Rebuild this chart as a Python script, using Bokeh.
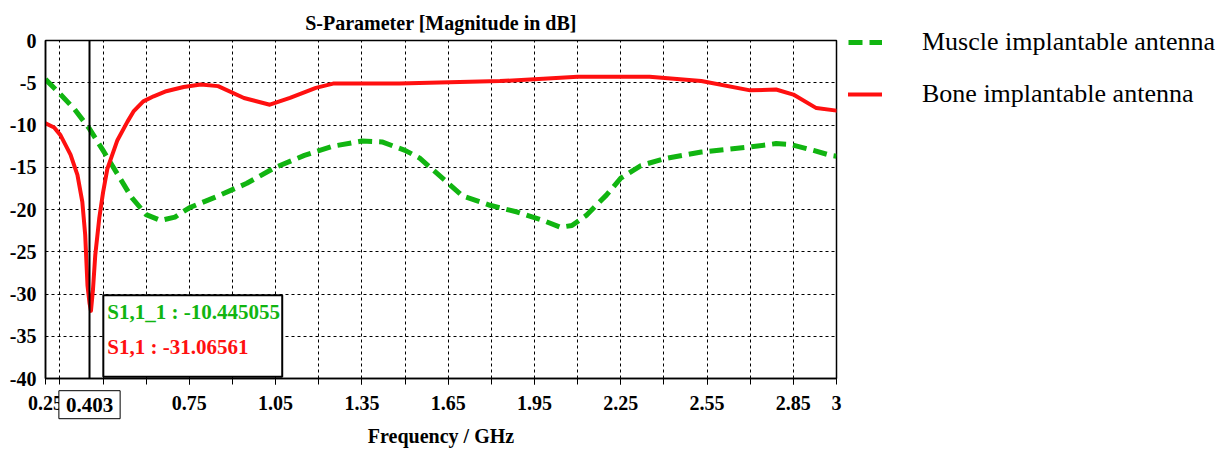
from bokeh.plotting import figure
from bokeh.models import (FixedTicker, Legend, LegendItem, Label, BoxAnnotation, Span)
from bokeh.embed import file_html
from bokeh.resources import INLINE

# ---- data ----
muscle_freq = [0.25, 0.30, 0.35, 0.403, 0.45, 0.50, 0.55, 0.60, 0.65, 0.70, 0.75, 0.85,
               0.95, 1.05, 1.15, 1.25, 1.35, 1.42, 1.50, 1.55, 1.63, 1.70, 1.795, 1.89,
               1.98, 2.04, 2.08, 2.13, 2.20, 2.25, 2.32, 2.40, 2.53, 2.70, 2.79, 2.84,
               2.92, 2.98, 3.00]
muscle_db = [-4.6, -6.3, -8.1, -10.45, -13.0, -15.8, -18.6, -20.6, -21.3, -20.9, -19.8, -18.4,
             -16.9, -15.0, -13.6, -12.5, -11.9, -12.0, -13.0, -13.9, -16.3, -18.4, -19.5, -20.3,
             -21.3, -22.1, -21.9, -20.7, -18.3, -16.3, -14.8, -14.0, -13.2, -12.6, -12.2, -12.3,
             -13.0, -13.6, -13.7]

bone_freq = [0.25, 0.28, 0.302, 0.337, 0.361, 0.378, 0.388, 0.396, 0.403, 0.408, 0.415, 0.423,
             0.437, 0.45, 0.465, 0.50, 0.535, 0.556, 0.59, 0.626, 0.67, 0.73, 0.79, 0.85,
             0.94, 1.03, 1.10, 1.19, 1.25, 1.48, 1.69, 1.83, 1.95, 2.10, 2.35, 2.53,
             2.70, 2.79, 2.85, 2.93, 3.00]
bone_db = [-9.8, -10.3, -11.2, -13.5, -15.9, -19.1, -23.0, -29.0, -31.07, -32.0, -29.5, -25.4,
           -21.0, -18.0, -15.2, -11.8, -9.6, -8.4, -7.2, -6.6, -6.0, -5.5, -5.2, -5.4,
           -6.8, -7.6, -6.8, -5.6, -5.1, -5.1, -4.9, -4.8, -4.6, -4.3, -4.3, -4.8,
           -5.9, -5.8, -6.4, -8.0, -8.3]

x_tick_labels = [0.25, 0.75, 1.05, 1.35, 1.65, 1.95, 2.25, 2.55, 2.85, 3.0]
x_grid = [0.30, 0.45, 0.60, 0.75, 0.90, 1.05, 1.20, 1.35, 1.50, 1.65, 1.80, 1.95,
          2.10, 2.25, 2.40, 2.55, 2.70, 2.85]
y_ticks = [0, -5, -10, -15, -20, -25, -30, -35, -40]
marker_freq = 0.403
marker_muscle = -10.445055
marker_bone = -31.06561

SERIF = "Liberation Serif"
GREEN = "#11b511"
RED = "#ff1010"

p = figure(frame_width=791, frame_height=338, x_range=(0.25, 3.0), y_range=(-40, 0),
           output_backend="svg", toolbar_location=None,
           min_border_left=45, min_border_right=390, min_border_top=40, min_border_bottom=60,
           title="S-Parameter [Magnitude in dB]")
p.background_fill_color = "white"
p.border_fill_color = "white"
p.outline_line_color = "black"
p.outline_line_width = 1.5

p.title.align = "center"
p.title.text_font = SERIF
p.title.text_font_style = "bold"
p.title.text_font_size = "20px"
p.title.text_color = "black"
p.title.standoff = 13

# axes
p.xaxis.ticker = FixedTicker(ticks=x_tick_labels, minor_ticks=x_grid)
p.xaxis.major_label_overrides = {0.25: "0.25", 3.0: "3"}
p.xaxis.axis_label = "Frequency / GHz"
for ax in (p.xaxis[0], p.yaxis[0]):
    ax.major_label_text_font = SERIF
    ax.major_label_text_font_style = "bold"
    ax.major_label_text_font_size = "20px"
    ax.major_label_text_color = "black"
    ax.axis_line_color = "black"
    ax.axis_line_width = 1.5
    ax.axis_label_text_font = SERIF
    ax.axis_label_text_font_style = "bold"
    ax.axis_label_text_font_size = "20px"
    ax.axis_label_text_color = "black"
p.xaxis.major_tick_out = 6
p.xaxis.major_tick_in = 0
p.xaxis.minor_tick_out = 6
p.xaxis.minor_tick_in = 0
p.xaxis.major_tick_line_color = "black"
p.xaxis.minor_tick_line_color = "black"
p.xaxis.major_label_standoff = 11
p.xaxis.axis_label_standoff = 12

p.yaxis.ticker = FixedTicker(ticks=y_ticks)
p.yaxis.major_label_overrides = {v: str(v) for v in y_ticks}
p.yaxis.major_tick_out = 0
p.yaxis.major_tick_in = 0
p.yaxis.minor_tick_line_color = None
p.yaxis.major_label_standoff = 9

# grid
p.xgrid.ticker = FixedTicker(ticks=x_grid)
p.ygrid.ticker = FixedTicker(ticks=y_ticks[1:-1])
for g in (p.xgrid[0], p.ygrid[0]):
    g.grid_line_color = "black"
    g.grid_line_width = 1
    g.grid_line_dash = "3 3"

# curves
r_muscle = p.line(muscle_freq, muscle_db, line_color=GREEN, line_width=5,
                  line_dash="14 7", line_join="round")
r_bone = p.line(bone_freq, bone_db, line_color=RED, line_width=4,
                line_join="round", line_cap="round")

# marker
p.add_layout(Span(location=marker_freq, dimension="height", line_color="black", line_width=2))

box = BoxAnnotation(left=0.451, right=1.073, top=-30.15, bottom=-39.8,
                    fill_color="white", fill_alpha=1.0, line_color="black",
                    line_alpha=1.0, line_width=2)
p.add_layout(box)
p.add_layout(Label(x=0.465, y=-32.1, text=f"S1,1_1 : {marker_muscle:.6f}",
                   text_font=SERIF, text_font_style="bold", text_font_size="21px",
                   text_color=GREEN, text_baseline="middle"))
p.add_layout(Label(x=0.465, y=-36.25, text=f"S1,1 : {marker_bone:.5f}",
                   text_font=SERIF, text_font_style="bold", text_font_size="21px",
                   text_color=RED, text_baseline="middle"))

# marker frequency label below the axis (boxed)
p.add_layout(Label(x=marker_freq, y=-43.1, text=f"{marker_freq:.3f}",
                   text_font=SERIF, text_font_style="bold", text_font_size="21px",
                   text_color="black", text_align="center", text_baseline="middle",
                   border_line_color="black", border_line_width=1,
                   background_fill_color="white", padding=7), "below")

# legend in the right panel
leg = Legend(items=[LegendItem(label="Muscle implantable antenna", renderers=[r_muscle]),
                    LegendItem(label="Bone implantable antenna", renderers=[r_bone])],
             location=(12, 269), padding=0, margin=0, glyph_width=34, glyph_height=20,
             label_height=20, spacing=22, label_standoff=40,
             label_text_font=SERIF, label_text_font_size="26px", label_text_color="black",
             border_line_color=None, background_fill_alpha=0)
p.add_layout(leg, "right")

open("out.html", "w").write(file_html(p, INLINE))
